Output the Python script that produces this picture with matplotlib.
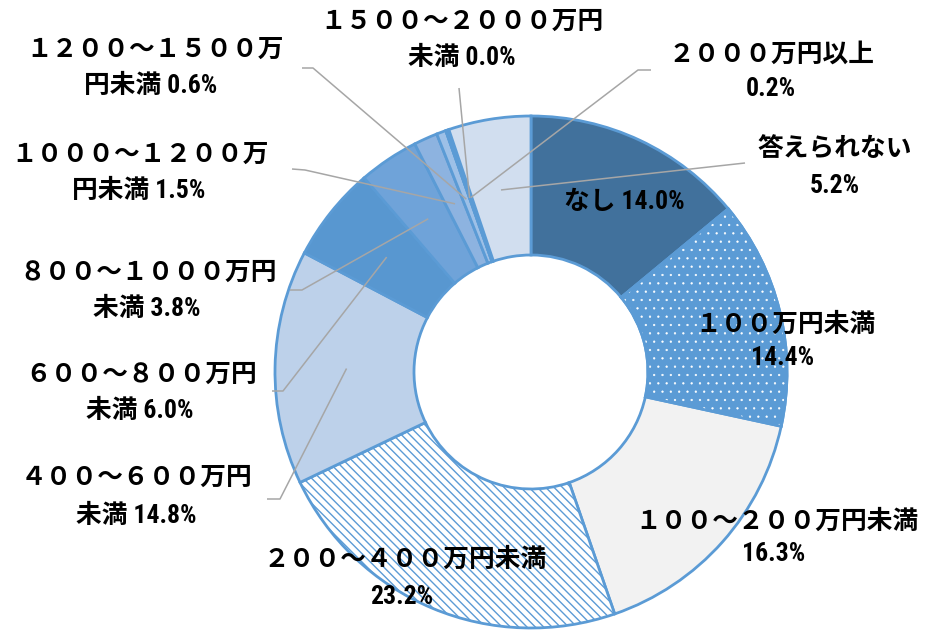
import matplotlib
matplotlib.use('Agg')
import matplotlib.pyplot as plt
from matplotlib.patches import Wedge
from matplotlib import font_manager as fm
import numpy as np

# ---------------- data ----------------
categories = ['なし', '１００万円未満', '１００～２００万円未満', '２００～４００万円未満',
              '４００～６００万円未満', '６００～８００万円未満', '８００～１０００万円未満',
              '１０００～１２００万円未満', '１２００～１５００万円未満', '１５００～２０００万円未満',
              '２０００万円以上', '答えられない']
values = [14.0, 14.4, 16.3, 23.2, 14.8, 6.0, 3.8, 1.5, 0.6, 0.0, 0.2, 5.2]

# ---------------- style / layout ----------------
colors = ['#41719C', '#5B9BD5', '#F2F2F2', '#FFFFFF', '#BDD1EA', '#5897D0',
          '#6FA3D9', '#8DB3E0', '#9DC0E7', '#5B9BD5', '#5B9BD5', '#D1DEEF']
EDGE = '#5B9BD5'
W, H = 925, 637
CX, CY = 531, H - 372
R_OUT, R_IN = 256, 117

split = [0, 7, 11, 11, 9, 9, 10, 10, 10, 11, 8, 6]
label_pos = [(624, 202, None, None), (785, 325, 783, 358), (777, 522, 774, 554),
             (405, 560, 402, 597), (137, 478, 136, 516), (141, 375, 140, 411),
             (148, 273, 147, 309), (140, 155, 139, 191), (155, 50, 151, 86),
             (462, 22, 462, 58), (771, 55, 771, 89), (835, 150, 835, 186)]
leaders = {4: [(267, 499), (280, 499)], 5: [(272, 391), (283, 391)],
           6: [(290, 290), (302, 290)], 7: [(292, 169), (305, 170)],
           8: [(302, 68), (313, 68)], 9: [(459, 88)],
           10: [(651, 70), (638, 70)], 11: [(745, 163)]}

# pick a narrow latin face if one is installed, CJK falls back to Noto Sans CJK JP
names = {f.name for f in fm.fontManager.ttflist}
stretch = 'normal'
latin = None
for cand in ['Liberation Sans Narrow', 'Arial Narrow', 'Roboto Condensed',
             'Open Sans Condensed', 'Noto Sans Condensed', 'DejaVu Sans Condensed']:
    if cand in names:
        latin = cand
        break
if latin is None:
    conds = [f for f in fm.fontManager.ttflist
             if str(f.stretch) in ('condensed', 'semi-condensed', 'extra-condensed')
             and f.name in ('DejaVu Sans', 'Roboto', 'Open Sans', 'Noto Sans', 'Liberation Sans')]
    if conds:
        latin = conds[0].name
        stretch = 'condensed'
    else:
        latin = 'Liberation Sans'
FONT = [latin, 'Noto Sans CJK JP']
FS = 18.5

plt.rcParams['hatch.linewidth'] = 1.0

fig = plt.figure(figsize=(W / 100, H / 100), dpi=100)
ax = fig.add_axes([0, 0, 1, 1])
ax.axis('off')

wedges, _ = ax.pie(values, radius=R_OUT, center=(CX, CY), startangle=90,
                   counterclock=False, colors=colors, normalize=True,
                   wedgeprops=dict(width=R_OUT - R_IN, edgecolor=EDGE, linewidth=2))
ax.set_xlim(0, W)
ax.set_ylim(0, H)
ax.set_aspect('equal')

# diagonal line hatching for 200-400
wedges[3].set_hatch('\\\\\\\\')
if hasattr(wedges[3], 'set_hatch_linewidth'):
    wedges[3].set_hatch_linewidth(1.0)
# white dots for 100万円未満
w = wedges[1]
dots = Wedge(w.center, w.r, w.theta1, w.theta2, width=w.width, facecolor='none',
             edgecolor='white', linewidth=0, hatch='..', zorder=1.5)
if hasattr(dots, 'set_hatch_linewidth'):
    dots.set_hatch_linewidth(0.4)
ax.add_patch(dots)
ax.add_patch(Wedge(w.center, w.r, w.theta1, w.theta2, width=w.width, fill=False,
                   edgecolor=EDGE, linewidth=2, zorder=1.6))

# leader lines
total = sum(values)
cum = np.cumsum([0] + values)
r_mid = (R_OUT + R_IN) / 2 - 2
for i, pts in leaders.items():
    f = (cum[i] + values[i] / 2) / total
    ang = np.deg2rad(90 - 360 * f)
    ex, ey = CX + r_mid * np.cos(ang), CY + r_mid * np.sin(ang)
    xs = [p[0] for p in pts] + [ex]
    ys = [H - p[1] for p in pts] + [ey]
    ax.plot(xs, ys, color='#A6A6A6', lw=1.1, zorder=3, solid_capstyle='butt')

# labels
kw = dict(ha='center', va='center', family=FONT, fontsize=FS, fontweight='bold',
          fontstretch=stretch, zorder=4)
for i, cat in enumerate(categories):
    pct = f'{values[i]:.1f}%'
    x1, y1, x2, y2 = label_pos[i]
    n = split[i]
    if n == 0:
        ax.text(x1, H - y1, f'{cat} {pct}', **kw)
        continue
    rest = cat[n:]
    ax.text(x1, H - y1, cat[:n], **kw)
    ax.text(x2, H - y2, f'{rest} {pct}' if rest else pct, **kw)

fig.savefig('out.png', dpi=100, facecolor='white')
